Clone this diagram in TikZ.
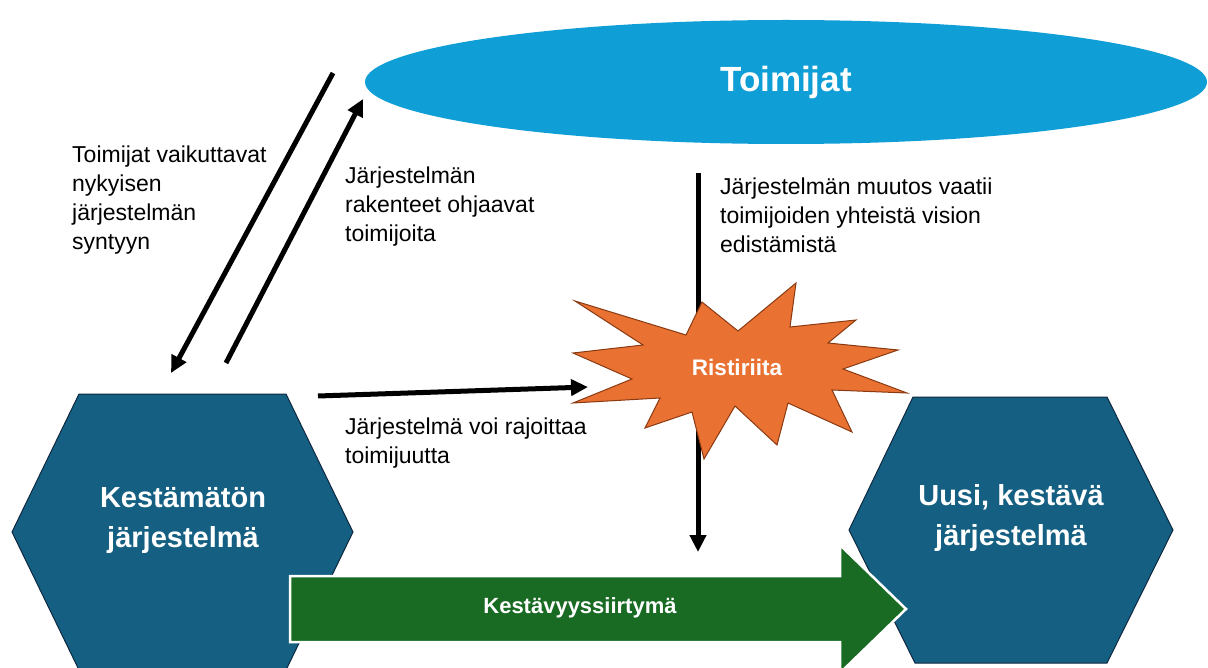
\documentclass[tikz,border=0pt]{standalone}
\usepackage{fontspec}
\setmainfont{Liberation Sans}
\usetikzlibrary{arrows.meta,shapes.geometric}
\definecolor{cblue}{HTML}{0F9ED5}
\definecolor{chex}{HTML}{156082}
\definecolor{chexline}{HTML}{0E2841}
\definecolor{corange}{HTML}{E97132}
\definecolor{corline}{HTML}{8A3A12}
\definecolor{cgreen}{HTML}{196B24}
\begin{document}
\begin{tikzpicture}[x=1pt,y=-1pt,
  conn/.style={line width=5pt,-{Triangle[length=17pt,width=16pt]}},
  lbl/.style={anchor=north west,inner sep=0pt,align=left,font=\fontsize{23}{29}\selectfont,text=black},
  hexshape/.style={fill=chex,draw=chexline,line width=1pt},
  hextext/.style={align=center,text=white,font=\bfseries\fontsize{29}{40}\selectfont,inner sep=0pt}]
\useasboundingbox (0,0) rectangle (1208,668);

% Toimijat ellipse
\node[ellipse,fill=cblue,minimum width=842pt,minimum height=124pt,inner sep=0pt,
      text=white,font=\bfseries\fontsize{35}{40}\selectfont] (toim) at (786,82) {Toimijat};

% hexagons
\draw[hexshape] (79,394) -- (286,394) -- (353,532) -- (286,670) -- (79,670) -- (12,532) -- cycle;
\node[hextext] (old) at (183,520) {Kestämätön\\järjestelmä};
\draw[hexshape] (913,397) -- (1107,397) -- (1173,530) -- (1107,663) -- (915,663) -- (849,530) -- cycle;
\node[hextext] (new) at (1011,518) {Uusi, kestävä\\järjestelmä};

% transition arrow
\draw[fill=cgreen,draw=white,line width=2.5pt]
  (290,576) -- (840,576) -- (840,545) -- (906,609) -- (840,673) -- (840,642) -- (290,642) -- cycle;
\node[text=white,font=\bfseries\fontsize{22}{25}\selectfont,inner sep=0pt] (trans) at (580,608) {Kestävyyssiirtymä};

% coordinates for connector ends
\coordinate (vtop) at (698,173);
\coordinate (vbot) at (698,552);
\coordinate (hs) at (318,396);
\coordinate (he) at (588,387);
\coordinate (as) at (333,73);
\coordinate (ae) at (171,373);
\coordinate (bs) at (226,363);
\coordinate (be) at (363,99);

% vertical arrow (behind star)
\draw[conn] (vtop) -- (vbot);

% star
\draw[fill=corange,draw=corline,line width=1pt]
  (575,301) -- (686,335) -- (702,302) -- (738,331) -- (796,283) -- (790,327)
  -- (856,320) -- (828,343) -- (898,350) -- (843,369) -- (907,393) -- (832,390)
  -- (852,432) -- (788,403) -- (777,445) -- (735,406) -- (704,459) -- (692,412)
  -- (645,428) -- (660,398) -- (573,403) -- (632,379) -- (573,353) -- (643,345) -- cycle;
\node[text=white,font=\bfseries\fontsize{22.5}{25}\selectfont,inner sep=0pt] (rist) at (737,367) {Ristiriita};

% other arrows
\draw[conn] (hs) -- (he);
\draw[conn] (as) -- (ae);
\draw[conn] (bs) -- (be);

% labels
\node[lbl] (l1) at (72,146) {Toimijat vaikuttavat\\nykyisen\\järjestelmän\\syntyyn};
\node[lbl] (l2) at (345,167) {Järjestelmän\\rakenteet ohjaavat\\toimijoita};
\node[lbl] (l3) at (720,178) {Järjestelmän muutos vaatii\\toimijoiden yhteistä vision\\edistämistä};
\node[lbl] (l4) at (345,418) {Järjestelmä voi rajoittaa\\toimijuutta};
\end{tikzpicture}
\end{document}
